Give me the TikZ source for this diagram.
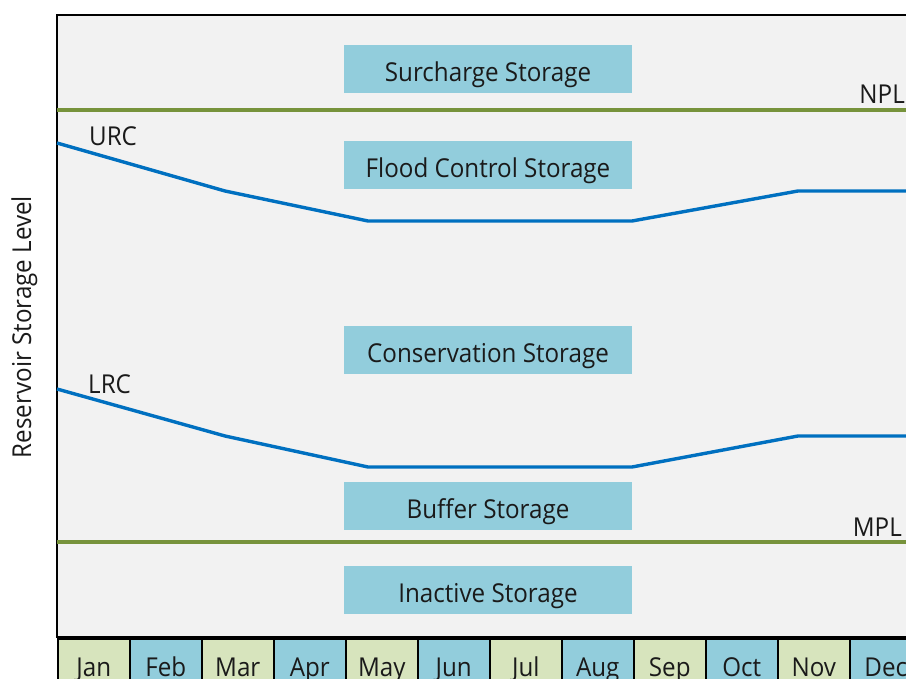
\documentclass[tikz,border=0pt]{standalone}
\usepackage{fontspec}
\setmainfont{Open Sans}[FakeStretch=0.93]
\usetikzlibrary{positioning}
\definecolor{zonebg}{HTML}{F2F2F2}
\definecolor{boxblue}{HTML}{92CDDC}
\definecolor{monthgreen}{HTML}{D7E4BD}
\definecolor{levelgreen}{HTML}{77933C}
\definecolor{curveblue}{HTML}{0070C0}
\definecolor{ink}{HTML}{1A1A1A}

\begin{document}
\begin{tikzpicture}[x=1pt,y=-1pt,
  every node/.style={text=ink, font=\fontsize{26}{28}\selectfont},
  zone/.style={fill=boxblue, minimum width=288pt, minimum height=48pt, inner sep=0pt,
    text height=30pt, text depth=5pt},
  month/.style={draw=black, line width=2.5pt, minimum width=72pt, minimum height=58pt,
    inner sep=0pt, anchor=north west, text height=22pt, text depth=4pt},
  tag/.style={inner sep=0pt},
  level/.style={draw=levelgreen, line width=4.3pt},
  rulecurve/.style={draw=curveblue, line width=3.4pt, line join=round}]
\useasboundingbox (0,0) rectangle (906,679);
\clip (0,0) rectangle (906,679);

% background and frame
\fill[zonebg] (57,15) rectangle (930,637);
\draw[line width=2.7pt] (930,15) -- (57,15) -- (57,637) -- (930,637);

% storage zones
\node[zone] (surcharge)    at (488,69)  {Surcharge Storage};
\node[zone] (flood)        at (488,165) {Flood Control Storage};
\node[zone] (conservation) at (488,350) {Conservation Storage};
\node[zone] (buffer)       at (488,506) {Buffer Storage};
\node[zone] (inactive)     at (488,590) {Inactive Storage};

% pool levels
\draw[level] (57,110) -- (930,110);
\draw[level] (57,542) -- (930,542);
\node[tag, anchor=base east] (npl) at (905,104) {NPL};
\node[tag, anchor=base east] (mpl) at (902,536) {MPL};

% rule curves
\draw[rulecurve] (57,143) -- (225,191) -- (368,221) -- (632,221) -- (798,191) -- (930,191);
\draw[rulecurve] (57,389) -- (225,436) -- (368,467) -- (632,467) -- (798,436) -- (930,436);
\node[tag, anchor=base west] (urc) at (89,146) {URC};
\node[tag, anchor=base west] (lrc) at (88,393) {LRC};

% months along the bottom
\foreach \m/\c [count=\i from 0] in {Jan/monthgreen,Feb/boxblue,Mar/monthgreen,Apr/boxblue,
    May/monthgreen,Jun/boxblue,Jul/monthgreen,Aug/boxblue,Sep/monthgreen,Oct/boxblue,
    Nov/monthgreen,Dec/boxblue}
  \node[month, fill=\c] (m\m) at (56.5+72*\i,637) {\m};

% axis label
\node[tag, rotate=90, anchor=base] (ylabel) at (31,327) {Reservoir Storage Level};
\end{tikzpicture}
\end{document}
